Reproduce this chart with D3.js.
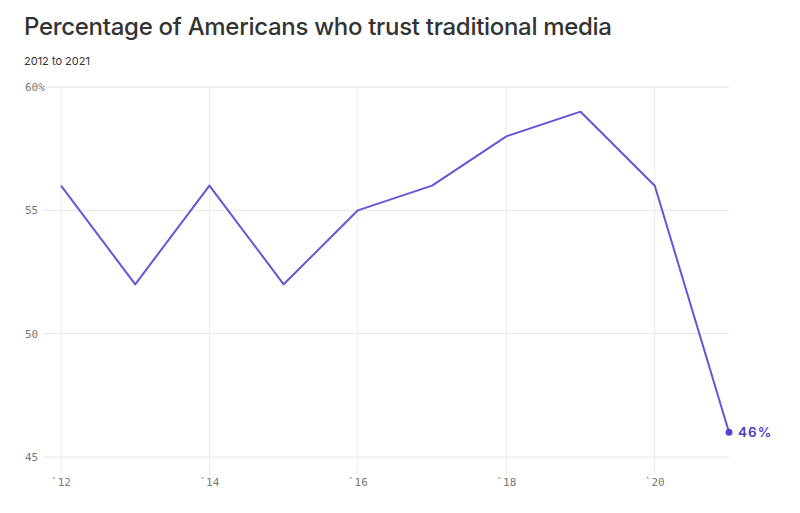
<!DOCTYPE html>
<html><head><meta charset="utf-8">
<script src="https://cdn.jsdelivr.net/npm/d3@7"></script>
<style>body{margin:0;background:#fff}</style>
</head><body>
<svg id="c" width="800" height="513"></svg>
<script>
const years = [2012,2013,2014,2015,2016,2017,2018,2019,2020,2021];
const values = [56,52,56,52,55,56,58,59,56,46];
const yTicks = [45,50,55,60];
const xTicks = [2012,2014,2016,2018,2020];
const title = "Percentage of Americans who trust traditional media";
const subtitle = "2012 to 2021";

const svg = d3.select("#c");
const x = d3.scaleLinear().domain([2012,2021]).range([61,729]);
const y = d3.scaleLinear().domain([45,60]).range([457,87]);

svg.append("text").attr("x",24).attr("y",35).text(title)
  .attr("font-family","Inter, 'Noto Sans', sans-serif").attr("font-size",24)
  .attr("font-weight",500).attr("fill","#333").attr("letter-spacing",-0.3);
svg.append("text").attr("x",24).attr("y",65).text(subtitle)
  .attr("font-family","Inter, 'Noto Sans', sans-serif").attr("font-size",11)
  .attr("fill","#333");

const mono = "'DejaVu Sans Mono', 'Liberation Mono', monospace";

// vertical grid
svg.append("g").selectAll("line").data(xTicks).join("line")
  .attr("x1",d=>x(d)).attr("x2",d=>x(d)).attr("y1",y(60)).attr("y2",475)
  .attr("stroke","#ebebeb").attr("stroke-width",1);
// horizontal grid
svg.append("g").selectAll("line").data(yTicks).join("line")
  .attr("x1",43).attr("x2",x(2021)).attr("y1",d=>y(d)).attr("y2",d=>y(d))
  .attr("stroke","#e6e6e6").attr("stroke-width",1);

// y labels
svg.append("g").selectAll("text").data(yTicks).join("text")
  .attr("x",25).attr("y",d=>y(d)+4)
  .text(d=>d===60? d+"%" : d)
  .attr("font-family",mono).attr("font-size",11).attr("fill","#777");
// x labels
svg.append("g").selectAll("text").data(xTicks).join("text")
  .attr("x",d=>x(d)).attr("y",486).attr("text-anchor","middle")
  .text(d=>"`"+String(d).slice(2))
  .attr("font-family",mono).attr("font-size",11).attr("fill","#777");

const data = years.map((d,i)=>({year:d,value:values[i]}));
svg.append("path").datum(data)
  .attr("d",d3.line().x(d=>x(d.year)).y(d=>y(d.value)))
  .attr("fill","none").attr("stroke","#6c52d9").attr("stroke-width",2)
  .attr("stroke-linejoin","round");

const last = data[data.length-1];
svg.append("circle").attr("cx",x(last.year)).attr("cy",y(last.value)).attr("r",3.5)
  .attr("fill","#5a42d0");
svg.append("text").attr("x",x(last.year)+9).attr("y",y(last.value)+5)
  .text(last.value+"%")
  .attr("font-family","Inter, 'Noto Sans', sans-serif").attr("font-size",13.5)
  .attr("font-weight",600).attr("letter-spacing",1).attr("fill","#4b3bc4");
</script>
</body></html>
